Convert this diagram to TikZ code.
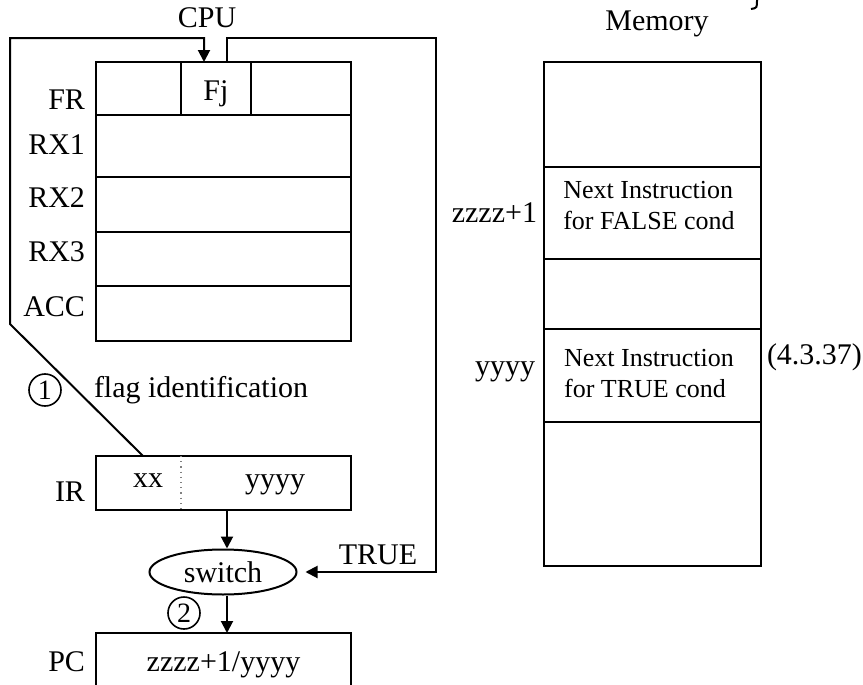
\documentclass[tikz,border=0pt]{standalone}
\usepackage{fontspec}
\setmainfont{Liberation Serif}
\usetikzlibrary{arrows.meta,positioning,shapes.geometric}

\begin{document}
\begin{tikzpicture}[
  x=0.5pt, y=-0.5pt,
  line width=1pt,
  font=\fontsize{15}{18}\selectfont,
  reg/.style={rectangle,draw=black,line width=1pt,minimum width=127.5pt,inner sep=0pt},
  cell/.style={rectangle,draw=black,line width=1pt,minimum width=108.5pt,inner sep=0pt},
  lbl/.style={anchor=east,inner sep=0pt},
  num/.style={circle,draw=black,line width=0.8pt,minimum size=16pt,inner sep=0pt,font=\fontsize{14}{16}\selectfont},
  arr/.style={-{Triangle[length=6pt,width=6pt]},line width=1pt}
]
\clip (0,0) rectangle (863,685);
% CPU registers
\node at (207,18) (cpu) {CPU};
\node[reg,minimum height=26.5pt] at (223.5,88.5) (fr) {};
\node[reg,minimum height=31pt] at (223.5,146) (rx1) {};
\node[reg,minimum height=27.5pt] at (223.5,204.5) (rx2) {};
\node[reg,minimum height=27pt] at (223.5,259) (rx3) {};
\node[reg,minimum height=27.5pt] at (223.5,313.5) (acc) {};
\node[rectangle,draw=black,line width=1pt,minimum width=35pt,minimum height=26.5pt,inner sep=0pt] at (216,88.5) (fj) {};
\node at (216,94) (fjtxt) {Fj};
\node[lbl] at (86,100) {FR};
\node[lbl] at (86,145) {RX1};
\node[lbl] at (86,198) {RX2};
\node[lbl] at (86,252) {RX3};
\node[lbl] at (86,307) {ACC};
% IR, switch, PC
\node[reg,minimum height=27pt] at (223.5,483) (ir) {};
\draw[gray,line width=0.6pt,dotted] (181,456) -- (181,510);
\node at (148,481) (irop) {xx};
\node at (275,485) (iradr) {yyyy};
\node[lbl] at (86,492) {IR};
\node[ellipse,draw=black,line width=1pt,minimum width=73.5pt,minimum height=22.5pt,inner sep=0pt] at (223,572) (sw) {switch};
\node[reg,minimum height=28.5pt] at (223.5,661.5) (pc) {};
\node at (223.5,665) (pcval) {zzzz+1/yyyy};
\node[lbl] at (86,662) {PC};
\node[num] at (45,390) (n1) {1};
\node[num] at (184,613) (n2) {2};
\node[anchor=west,inner sep=0pt] at (93,390) (flag) {flag identification};
\node at (378,555) (true) {TRUE};
% loops
\draw[arr] (143,456) -- (10,324) -- (10,38) -- (204,38) -- (204,62);
\draw[arr,shorten >=4pt] (227,62) -- (227,38) -- (436,38) -- (436,572) -- (sw.east);
\draw[arr] (227,510) -- (sw.north -| 227,0);
\draw[arr] (sw.south -| 227,0) -- (227,633);
% Memory
\node at (657,24) (mem) {Memory};
\node[cell,minimum height=52.5pt] at (652.5,114.5) (m1) {};
\node[cell,minimum height=46pt] at (652.5,213) (m2) {};
\node[cell,minimum height=35pt] at (652.5,294) (m3) {};
\node[cell,minimum height=46.5pt] at (652.5,375.5) (m4) {};
\node[cell,minimum height=72pt] at (652.5,494) (m5) {};
\node[align=left,font=\fontsize{13}{15.5}\selectfont] at (649,206) (false) {Next Instruction\\for FALSE cond};
\node[align=left,font=\fontsize{13}{15.5}\selectfont] at (649,374) (truec) {Next Instruction\\for TRUE cond};
\node[lbl] at (538,213) {zzzz+1};
\node[lbl] at (536,372) {yyyy};
\node[anchor=west,inner sep=0pt] at (766,357) (eq) {(4.3.37)};
\draw (757,0) .. controls (757,8) .. (751,9);
\end{tikzpicture}
\end{document}
